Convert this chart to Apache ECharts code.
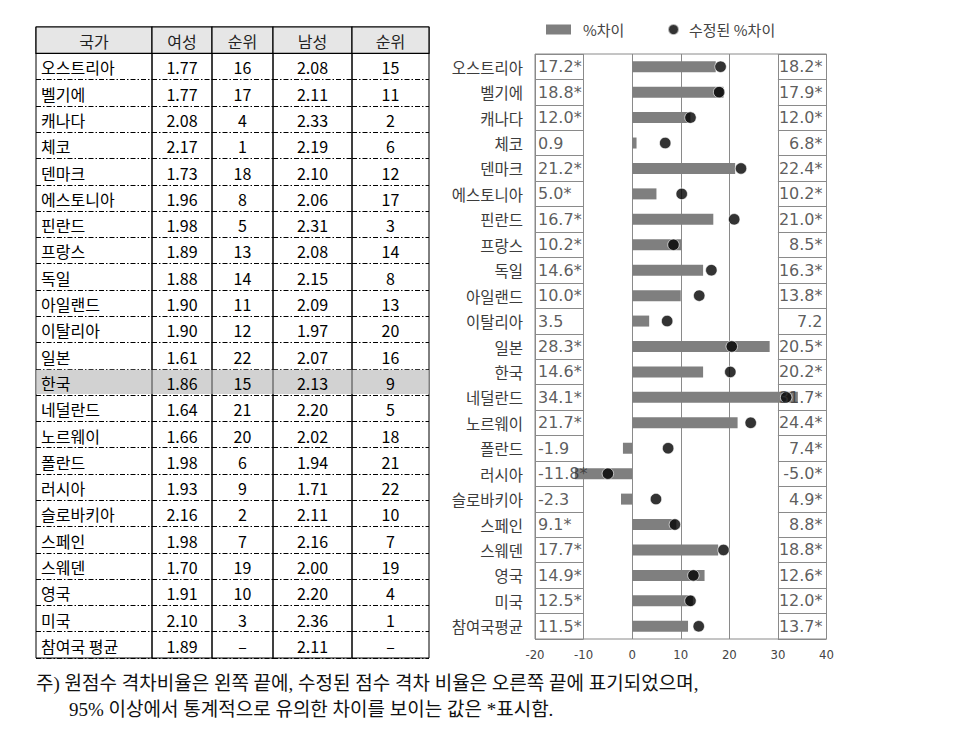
<!DOCTYPE html>
<html><head><meta charset="utf-8">
<script src="https://cdn.jsdelivr.net/npm/echarts@6/dist/echarts.min.js"></script>
<style>html,body{margin:0;padding:0;background:#fff}#c{width:955px;height:740px}</style>
</head><body><div id="c"></div>
<script>
// ---------- data ----------
const countries = ['오스트리아','벨기에','캐나다','체코','덴마크','에스토니아','핀란드','프랑스','독일','아일랜드','이탈리아','일본','한국','네덜란드','노르웨이','폴란드','러시아','슬로바키아','스페인','스웨덴','영국','미국','참여국평균'];
const tableCountries = ['오스트리아','벨기에','캐나다','체코','덴마크','에스토니아','핀란드','프랑스','독일','아일랜드','이탈리아','일본','한국','네덜란드','노르웨이','폴란드','러시아','슬로바키아','스페인','스웨덴','영국','미국','참여국 평균'];
const tableHeaders = ['국가','여성','순위','남성','순위'];
const femaleScore = ['1.77','1.77','2.08','2.17','1.73','1.96','1.98','1.89','1.88','1.90','1.90','1.61','1.86','1.64','1.66','1.98','1.93','2.16','1.98','1.70','1.91','2.10','1.89'];
const femaleRank = ['16','17','4','1','18','8','5','13','14','11','12','22','15','21','20','6','9','2','7','19','10','3','–'];
const maleScore = ['2.08','2.11','2.33','2.19','2.10','2.06','2.31','2.08','2.15','2.09','1.97','2.07','2.13','2.20','2.02','1.94','1.71','2.11','2.16','2.00','2.20','2.36','2.11'];
const maleRank = ['15','11','2','6','12','17','3','14','8','13','20','16','9','5','18','21','22','10','7','19','4','1','–'];
const highlightRow = '한국';
const pctGap = [17.2,18.8,12.0,0.9,21.2,5.0,16.7,10.2,14.6,10.0,3.5,28.3,14.6,34.1,21.7,-1.9,-11.8,-2.3,9.1,17.7,14.9,12.5,11.5];
const pctGapSig = [1,1,1,0,1,1,1,1,1,1,0,1,1,1,1,0,1,0,1,1,1,1,1];
const adjGap = [18.2,17.9,12.0,6.8,22.4,10.2,21.0,8.5,16.3,13.8,7.2,20.5,20.2,31.7,24.4,7.4,-5.0,4.9,8.8,18.8,12.6,12.0,13.7];
const adjGapSig = [1,1,1,1,1,1,1,1,1,1,0,1,1,1,1,1,1,1,1,1,1,1,1];
const xTicks = [-20,-10,0,10,20,30,40];
const legendNames = ['%차이','수정된 %차이'];
const noteLines = ['주) 원점수 격차비율은 왼쪽 끝에, 수정된 점수 격차 비율은 오른쪽 끝에 표기되었으며,','95% 이상에서 통계적으로 유의한 차이를 보이는 값은 *표시함.'];

// ---------- layout ----------
const colEdges = [36,152,212,273,352,429];
const tableTop = 27, tableHeight = 631;
const chartLeft = 535, chartWidth = 291.5, chartTop = 54, chartHeight = 585;
const kFont = "'Noto Sans CJK KR', sans-serif";

const tableCols = [tableCountries, femaleScore, femaleRank, maleScore, maleRank];
const rowCats = ['__header__'].concat(tableCountries);

const grid = [], xAxis = [], yAxis = [], series = [];
tableCols.forEach((col, c) => {
  grid.push({left: colEdges[c], top: tableTop, width: colEdges[c+1]-colEdges[c], height: tableHeight,
    show: true, borderColor: '#000', borderWidth: 1, backgroundColor: 'transparent'});
  xAxis.push({type: 'value', gridIndex: c, min: 0, max: 1, show: false});
  yAxis.push({type: 'category', gridIndex: c, data: rowCats, inverse: true,
    axisLine: {show: false}, axisTick: {show: false}, axisLabel: {show: false},
    splitLine: {show: true, lineStyle: {color: '#000', width: 1, type: [5, 2, 1.5, 2]}}});
  const texts = [tableHeaders[c]].concat(col);
  series.push({
    type: 'custom', xAxisIndex: c, yAxisIndex: c, silent: true, z: 3,
    data: texts.map((t, i) => [0, i]),
    renderItem: function (params, api) {
      const i = api.value(1);
      const p = api.coord([0, i]);
      const s = api.size([1, 1]);
      const isHeader = i === 0;
      const isHL = rowCats[i] === highlightRow;
      const left = c === 0 && !isHeader;
      const children = [];
      if (isHeader) {
        children.push({type: 'rect', shape: {x: p[0], y: p[1]-s[1]/2, width: s[0], height: s[1]},
          style: {fill: '#e6e6e6', stroke: '#000', lineWidth: 1.2}});
      } else if (isHL) {
        children.push({type: 'rect', shape: {x: p[0]+0.5, y: p[1]-s[1]/2+1, width: s[0]-1, height: s[1]-2},
          style: {fill: '#d2d2d2'}});
      }
      children.push({type: 'text', style: {text: texts[params.dataIndex],
        x: left ? p[0]+5 : p[0]+s[0]/2, y: p[1]+1,
        align: left ? 'left' : 'center', verticalAlign: 'middle',
        fontFamily: kFont, fontSize: 16, fill: isHeader ? '#222' : '#000'}});
      return {type: 'group', children: children};
    }
  });
});

// main chart grid (index 5)
const G = 5;
grid.push({left: chartLeft, top: chartTop, width: chartWidth, height: chartHeight,
  show: true, borderColor: '#8a8a8a', borderWidth: 1});
xAxis.push({type: 'value', gridIndex: G, min: xTicks[0], max: xTicks[xTicks.length-1], interval: xTicks[1]-xTicks[0],
  axisLine: {show: false}, axisTick: {show: false},
  axisLabel: {color: '#444', fontSize: 13, fontFamily: "'DejaVu Sans Condensed','DejaVu Sans',sans-serif", margin: 9},
  splitLine: {show: true, lineStyle: {color: '#8a8a8a', width: 1}}});
yAxis.push({type: 'category', gridIndex: G, data: countries, inverse: true,
  axisLine: {show: false}, axisTick: {show: false}, splitLine: {show: false},
  axisLabel: {color: '#3c3c3c', fontSize: 15.5, fontFamily: kFont, margin: 12}});
// left and right value boxes (grid 6 and 7) to draw row separators only there
const boxW = chartWidth / (xTicks.length - 1);
[[chartLeft], [chartLeft + chartWidth - boxW]].forEach((b, k) => {
  const gi = 6 + k;
  grid.push({left: b[0], top: chartTop, width: boxW, height: chartHeight, show: false});
  xAxis.push({type: 'value', gridIndex: gi, min: 0, max: 1, show: false});
  yAxis.push({type: 'category', gridIndex: gi, data: countries, inverse: true,
    axisLine: {show: false}, axisTick: {show: false}, axisLabel: {show: false},
    splitLine: {show: true, lineStyle: {color: '#8a8a8a', width: 1}}});
});

series.push({name: legendNames[0], type: 'bar', xAxisIndex: G, yAxisIndex: G, data: pctGap,
  barWidth: 11, itemStyle: {color: '#7f7f7f'}, z: 3, silent: true});
series.push({name: legendNames[1], type: 'scatter', xAxisIndex: G, yAxisIndex: G,
  data: adjGap.map((v, i) => [v, i]), symbol: 'circle', symbolSize: 11.5,
  itemStyle: {color: '#000', borderColor: 'rgba(255,255,255,0.8)', borderWidth: 1}, z: 5, silent: true});
const valFont = {color: '#333', fontSize: 16, fontFamily: "'DejaVu Sans',sans-serif"};
series.push({type: 'scatter', xAxisIndex: G, yAxisIndex: G, symbolSize: 0, z: 6, silent: true,
  data: pctGap.map((v, i) => [xTicks[0], i]),
  label: Object.assign({show: true, position: 'right', distance: 3,
    formatter: p => pctGap[p.dataIndex].toFixed(1) + (pctGapSig[p.dataIndex] ? '*' : '')}, valFont)});
series.push({type: 'scatter', xAxisIndex: G, yAxisIndex: G, symbolSize: 0, z: 6, silent: true,
  data: adjGap.map((v, i) => [xTicks[xTicks.length-1], i]),
  label: Object.assign({show: true, position: 'left', distance: 4,
    formatter: p => adjGap[p.dataIndex].toFixed(1) + (adjGapSig[p.dataIndex] ? '*' : '')}, valFont)});

const noteFont = {fontFamily: "'Liberation Serif','Noto Sans CJK KR',serif", fontWeight: 'normal', fontSize: 19, color: '#111'};
const option = {
  animation: false,
  backgroundColor: '#fff',
  grid, xAxis, yAxis, series,
  legend: [
    {data: [{name: legendNames[0], icon: 'rect'}], left: 546, top: 22, itemWidth: 25, itemHeight: 10,
      textStyle: {color: '#444', fontSize: 15, fontFamily: kFont, padding: [0, 0, 0, 7]}, selectedMode: false, padding: 0},
    {data: [{name: legendNames[1], icon: 'circle'}], left: 667, top: 22, itemWidth: 11, itemHeight: 11,
      textStyle: {color: '#444', fontSize: 15, fontFamily: kFont, padding: [0, 0, 0, 5]}, selectedMode: false, padding: 0}
  ],
  title: [
    {text: noteLines[0], left: 36, top: 674, padding: 0, textStyle: noteFont},
    {text: noteLines[1], left: 69, top: 700, padding: 0, textStyle: noteFont}
  ]
};
const chart = echarts.init(document.getElementById('c'), null, {renderer: 'svg'});
chart.setOption(option);
</script>
</body></html>
